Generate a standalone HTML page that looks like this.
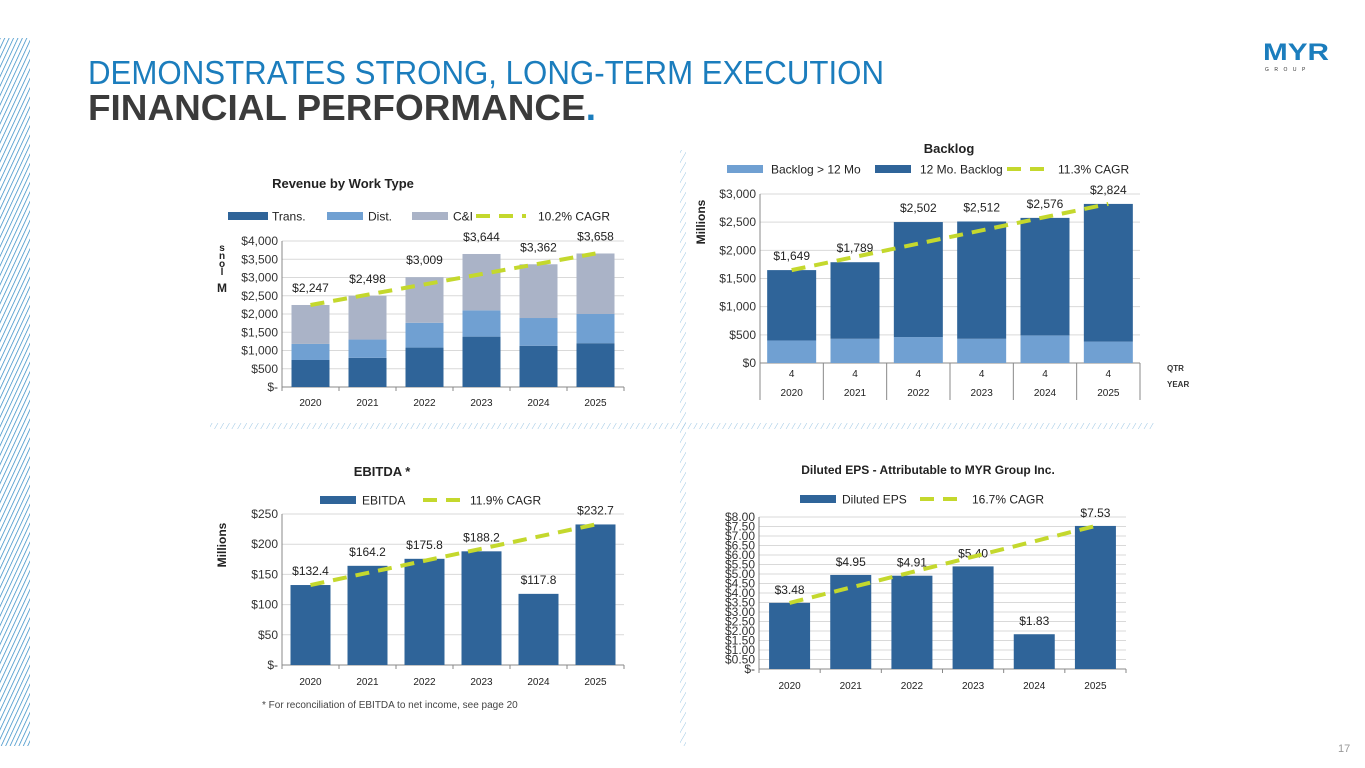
<!DOCTYPE html>
<html><head><meta charset="utf-8">
<style>
html,body{margin:0;padding:0;background:#fff;}
svg{display:block;font-family:"Liberation Sans",Calibri,sans-serif;}
</style></head>
<body>
<svg id="pg" width="1365" height="768" viewBox="0 0 1365 768" xmlns="http://www.w3.org/2000/svg">
<defs>
<pattern id="hatch" width="4" height="4" patternUnits="userSpaceOnUse" patternTransform="rotate(25)">
<line x1="0" y1="0" x2="0" y2="4" stroke="#2a86c3" stroke-width="1.4"/>
</pattern>
<pattern id="hatch2" width="5" height="5" patternUnits="userSpaceOnUse" patternTransform="rotate(30)">
<line x1="0" y1="0" x2="0" y2="5" stroke="#8fbfe0" stroke-width="0.9"/>
</pattern>
</defs>
<rect x="0" y="38" width="30" height="708" fill="url(#hatch)"/>
<rect x="210" y="423" width="945" height="6" fill="url(#hatch2)"/>
<rect x="680" y="150" width="6" height="596" fill="url(#hatch2)"/>
<text x="88" y="84" font-size="33" fill="#1b7dbd" textLength="796" lengthAdjust="spacingAndGlyphs">DEMONSTRATES STRONG, LONG-TERM EXECUTION</text>
<text x="88" y="120" font-size="36" font-weight="bold" fill="#3b3b3b" textLength="508" lengthAdjust="spacingAndGlyphs">FINANCIAL PERFORMANCE<tspan fill="#1b7dbd">.</tspan></text>
<g>
<text x="1263" y="60" font-size="24" font-weight="bold" fill="#1b7dbd" textLength="66" lengthAdjust="spacingAndGlyphs">MYR</text>
<text x="1265" y="71" font-size="5" fill="#333" letter-spacing="5.5">GROUP</text>
</g>
<text x="1338" y="752" font-size="11" fill="#999">17</text>
<text x="262" y="708" font-size="10" fill="#444">* For reconciliation of EBITDA to net income, see page 20</text>
<g id="charts"></g>
</svg>
<script>
// ---- data ----
const years = ["2020","2021","2022","2023","2024","2025"];
const revTrans = [740, 800, 1080, 1380, 1130, 1200];
const revDist = [440, 500, 680, 720, 760, 800];
const revTotal = [2247, 2498, 3009, 3644, 3362, 3658];
const revTicks = [0,500,1000,1500,2000,2500,3000,3500,4000];
const revTickLabels = ["$-","$500","$1,000","$1,500","$2,000","$2,500","$3,000","$3,500","$4,000"];
const backlogLong = [400, 430, 460, 430, 490, 380];
const backlogTotal = [1649, 1789, 2502, 2512, 2576, 2824];
const backlogQtr = ["4","4","4","4","4","4"];
const backlogTicks = [0,500,1000,1500,2000,2500,3000];
const backlogTickLabels = ["$0","$500","$1,000","$1,500","$2,000","$2,500","$3,000"];
const ebitda = [132.4, 164.2, 175.8, 188.2, 117.8, 232.7];
const ebitdaTicks = [0,50,100,150,200,250];
const ebitdaTickLabels = ["$-","$50","$100","$150","$200","$250"];
const eps = [3.48, 4.95, 4.91, 5.40, 1.83, 7.53];
const epsTicks = [0,0.5,1,1.5,2,2.5,3,3.5,4,4.5,5,5.5,6,6.5,7,7.5,8];
const epsTickLabels = ["$-","$0.50","$1.00","$1.50","$2.00","$2.50","$3.00","$3.50","$4.00","$4.50","$5.00","$5.50","$6.00","$6.50","$7.00","$7.50","$8.00"];

const NS="http://www.w3.org/2000/svg";
const root=document.getElementById('charts');
const DARK="#2f6499", LIGHT="#70a0d2", GRAY="#aab3c7", LIME="#c4d82d";
function mk(tag,attrs,parent,txt){const e=document.createElementNS(NS,tag);for(const k in attrs)e.setAttribute(k,attrs[k]);if(txt!==undefined)e.textContent=txt;(parent||root).appendChild(e);return e;}

function axes(cfg){
  const g=mk('g',{});
  
  
  const y=v=>cfg.y0-(v-cfg.min)/(cfg.max-cfg.min)*(cfg.y0-cfg.y1);
  const cw=(cfg.x1-cfg.x0)/cfg.n;
  const xc=i=>cfg.x0+cw*(i+0.5);
  cfg.ticks.forEach((t,i)=>{
    const ln=mk('line',{x1:cfg.x0,x2:cfg.x1,y1:y(t),y2:y(t),stroke:"#d9d9d9","stroke-width":1},g);
    
    
    const tl=mk('text',{x:cfg.x0-4,y:y(t)+4,"font-size":cfg.tfs||12,"text-anchor":"end",fill:"#333"},g,cfg.tickLabels[i]);
    
    
  });
  mk('line',{x1:cfg.x0,x2:cfg.x0,y1:cfg.y1,y2:cfg.y0,stroke:"#888"},g);
  mk('line',{x1:cfg.x0,x2:cfg.x1,y1:cfg.y0,y2:cfg.y0,stroke:"#888"},g);
  for(let i=0;i<=cfg.n;i++) mk('line',{x1:cfg.x0+cw*i,x2:cfg.x0+cw*i,y1:cfg.y0,y2:cfg.y0+(cfg.tickLen||4),stroke:"#888"},g);
  return {g,y,xc,cw};
}
function bar(g,x,w,ya,yb,fill,name){
  const r=mk('rect',{x:x-w/2,y:Math.min(ya,yb),width:w,height:Math.abs(yb-ya),fill:fill},g);
  
  
}
function label(g,x,y,t,fs,name){
  const e=mk('text',{x:x,y:y,"font-size":fs||12,"text-anchor":"middle",fill:"#222"},g,t);
  
  
  return e;
}
function cagr(g,A,vals){
  const n=vals.length;
  const p=mk('line',{x1:A.xc(0),y1:A.y(vals[0]),x2:A.xc(n-1),y2:A.y(vals[n-1]),stroke:LIME,"stroke-width":4,"stroke-dasharray":"14 9"},g);
  
  
}
function legend(g,items,y){
  items.forEach(it=>{
    if(it.dash){const l=mk('line',{x1:it.x,x2:it.x+it.w,y1:y,y2:y,stroke:LIME,"stroke-width":4,"stroke-dasharray":"14 9"},g);
       }
    else {const r=mk('rect',{x:it.x,y:y-4,width:it.w,height:8,fill:it.c},g);
       }
    const t=mk('text',{x:it.tx,y:y+4.5,"font-size":12,fill:"#222"},g,it.t);
    
    
  });
}
function fmt(v){return "$"+v.toLocaleString("en-US");}

// ---- Revenue ----
(function(){
  const A=axes({name:"revenue-chart",x0:282,x1:624,y0:387,y1:241,min:0,max:4000,n:6,ticks:revTicks,tickLabels:revTickLabels});
  const g=A.g;
  years.forEach((yr,i)=>{
    const x=A.xc(i),w=38;
    bar(g,x,w,A.y(0),A.y(revTrans[i]),DARK,'bar-trans-'+yr);
    bar(g,x,w,A.y(revTrans[i]),A.y(revTrans[i]+revDist[i]),LIGHT,'bar-dist-'+yr);
    bar(g,x,w,A.y(revTrans[i]+revDist[i]),A.y(revTotal[i]),GRAY,'bar-ci-'+yr);
    label(g,x,A.y(revTotal[i])-13,fmt(revTotal[i]),12,'value-label');
    label(g,x,406,yr,10,'x-tick-label');
  });
  cagr(g,A,revTotal);
  label(g,343,188,"Revenue by Work Type",13,'chart-title').setAttribute('font-weight','bold');
  legend(g,[{x:228,w:40,c:DARK,tx:272,t:"Trans."},{x:327,w:36,c:LIGHT,tx:368,t:"Dist."},{x:412,w:36,c:GRAY,tx:453,t:"C&I"},{dash:1,x:476,w:50,tx:538,t:"10.2% CAGR"}],216);
  const m=mk('text',{x:222,y:292,"font-size":12,"font-weight":"bold","text-anchor":"middle",fill:"#222"},g,"M");
   
  ["s","n","o","l"].forEach((c,i)=>{mk('text',{x:222,y:251+i*8,"font-size":10,"font-weight":"bold","text-anchor":"middle",fill:"#222"},g,c);});
})();

// ---- Backlog ----
(function(){
  const A=axes({name:"backlog-chart",x0:760,x1:1140,y0:363,y1:194,min:0,max:3000,n:6,ticks:backlogTicks,tickLabels:backlogTickLabels,tickLen:37});
  const g=A.g;
  years.forEach((yr,i)=>{
    const x=A.xc(i),w=49;
    bar(g,x,w,A.y(0),A.y(backlogLong[i]),LIGHT,'bar-backlog-long-'+yr);
    bar(g,x,w,A.y(backlogLong[i]),A.y(backlogTotal[i]),DARK,'bar-backlog-12mo-'+yr);
    label(g,x,A.y(backlogTotal[i])-10,fmt(backlogTotal[i]),12,'value-label');
    label(g,x,377,backlogQtr[i],10,'x-tick-qtr');
    label(g,x,396,yr,10,'x-tick-year');
  });
  cagr(g,A,backlogTotal);
  label(g,949,153,"Backlog",13,'chart-title').setAttribute('font-weight','bold');
  legend(g,[{x:727,w:36,c:LIGHT,tx:771,t:"Backlog > 12 Mo"},{x:875,w:36,c:DARK,tx:920,t:"12 Mo. Backlog"},{dash:1,x:1007,w:45,tx:1058,t:"11.3% CAGR"}],169);
  const t=mk('text',{x:0,y:0,"font-size":12,"font-weight":"bold","text-anchor":"middle",fill:"#222",transform:"translate(705,222) rotate(-90)"},g,"Millions");
   
  mk('text',{x:1167,y:371,"font-size":8,"font-weight":"bold",fill:"#333"},g,"QTR");
  mk('text',{x:1167,y:387,"font-size":8,"font-weight":"bold",fill:"#333"},g,"YEAR");
})();

// ---- EBITDA ----
(function(){
  const A=axes({name:"ebitda-chart",x0:282,x1:624,y0:665,y1:514,min:0,max:250,n:6,ticks:ebitdaTicks,tickLabels:ebitdaTickLabels});
  const g=A.g;
  years.forEach((yr,i)=>{
    const x=A.xc(i);
    bar(g,x,40,A.y(0),A.y(ebitda[i]),DARK,'bar-ebitda-'+yr);
    label(g,x,A.y(ebitda[i])-10,"$"+ebitda[i].toFixed(1),12,'value-label');
    label(g,x,685,yr,10,'x-tick-label');
  });
  cagr(g,A,ebitda);
  label(g,382,476,"EBITDA *",13,'chart-title').setAttribute('font-weight','bold');
  legend(g,[{x:320,w:36,c:DARK,tx:362,t:"EBITDA"},{dash:1,x:423,w:45,tx:470,t:"11.9% CAGR"}],500);
  const t=mk('text',{x:0,y:0,"font-size":12,"font-weight":"bold","text-anchor":"middle",fill:"#222",transform:"translate(226,545) rotate(-90)"},g,"Millions");
   
})();

// ---- EPS ----
(function(){
  const A=axes({name:"eps-chart",x0:759,x1:1126,y0:669,y1:517,min:0,max:8,n:6,ticks:epsTicks,tickLabels:epsTickLabels,tfs:12});
  const g=A.g;
  years.forEach((yr,i)=>{
    const x=A.xc(i);
    bar(g,x,41,A.y(0),A.y(eps[i]),DARK,'bar-eps-'+yr);
    label(g,x,A.y(eps[i])-9,"$"+eps[i].toFixed(2),12,'value-label');
    label(g,x,689,yr,10,'x-tick-label');
  });
  cagr(g,A,eps);
  label(g,928,474,"Diluted EPS - Attributable to MYR Group Inc.",12,'chart-title').setAttribute('font-weight','bold');
  legend(g,[{x:800,w:36,c:DARK,tx:842,t:"Diluted EPS"},{dash:1,x:920,w:45,tx:972,t:"16.7% CAGR"}],499);
})();
</script>
</body></html>
